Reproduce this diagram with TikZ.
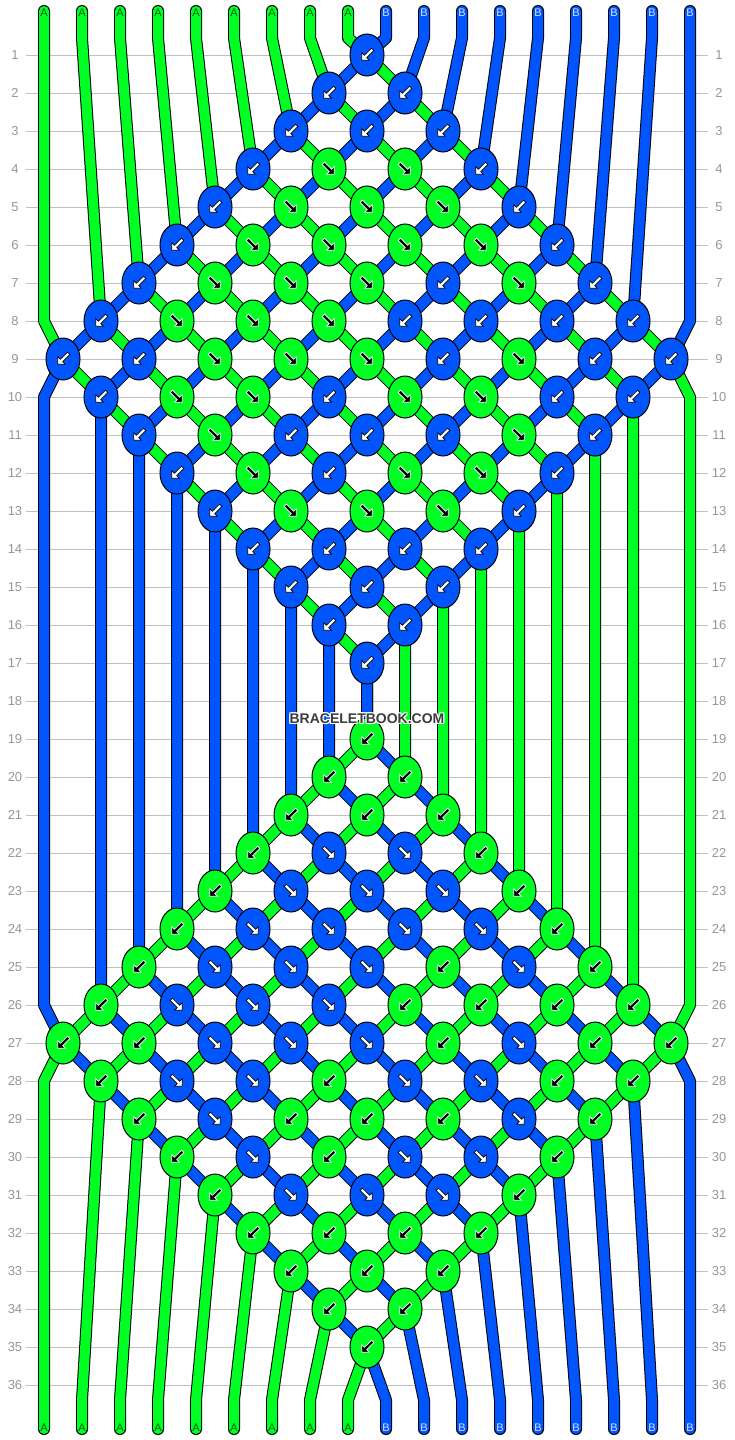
\documentclass[tikz,border=0pt]{standalone}
\usepackage{fontspec}
\setmainfont{Liberation Sans}
\usetikzlibrary{shapes.geometric}
\definecolor{cg}{RGB}{0,255,34}
\definecolor{cb}{RGB}{0,85,255}
\definecolor{gridc}{RGB}{192,192,192}
\definecolor{numc}{RGB}{150,150,150}
\definecolor{labA}{RGB}{0,100,20}
\definecolor{labB}{RGB}{215,228,255}
\definecolor{wmc}{RGB}{60,60,60}
\pgfdeclarelayer{bg}
\pgfdeclarelayer{strings}
\pgfdeclarelayer{front}
\pgfsetlayers{bg,strings,main,front}
\tikzset{
  knotnode/.style={ellipse, draw=black, line width=1pt, minimum width=34pt, minimum height=42pt, inner sep=0pt},
  knotB/.style={fill=cb},
  knotG/.style={fill=cg},
  arrB/.style={fill=white, draw=black, line width=0.7pt, line join=miter},
  arrG/.style={fill=black, draw=white, line width=0.7pt, line join=miter},
  gstr/.style={draw=black, line width=1pt, double=cg, double distance=10pt, line cap=round, line join=round},
  bstr/.style={draw=black, line width=1pt, double=cb, double distance=10pt, line cap=round, line join=round},
  gridline/.style={draw=gridc, line width=1pt},
  rownum/.style={text=numc, font=\fontsize{13}{15}\selectfont, inner sep=0pt},
  lblA/.style={text=labA, font=\fontsize{11}{13}\selectfont, inner sep=0pt},
  lblB/.style={text=labB, font=\fontsize{11}{13}\selectfont, inner sep=0pt},
  wmtext/.style={font=\bfseries\fontsize{14}{16}\selectfont, inner sep=0pt}
}
% #1 row, #2 slot, #3 colour letter (B/G), #4 direction (L = backward, R = forward)
\newcommand\knotdraw[4]{%
  \node[knotnode, knot#3] (k-#1-#2) at ({25+38*#2},{17+38*#1}) {};
  \if#4L
    \path[arr#3, shift={(k-#1-#2.center)}] (4.53,-6.79) -- (-2.55,0.28) -- (-5.30,-2.47) -- (-5.30,5.30) -- (2.47,5.30) -- (-0.28,2.55) -- (6.79,-4.53) -- cycle;
  \else
    \path[arr#3, shift={(k-#1-#2.center)}] (-4.53,-6.79) -- (2.55,0.28) -- (5.30,-2.47) -- (5.30,5.30) -- (-2.47,5.30) -- (0.28,2.55) -- (-6.79,-4.53) -- cycle;
  \fi
}
\begin{document}
\begin{tikzpicture}[x=1pt,y=-1pt]
\useasboundingbox (0,0) rectangle (734,1440);

% grid and row numbers
\begin{pgfonlayer}{bg}
\foreach \R in {1,...,36}{
  \draw[gridline] (26,{17+38*\R}) -- (708,{17+38*\R});
  \node[rownum] (rl-\R) at (15,{17+38*\R}) {\R};
  \node[rownum] (rr-\R) at (719,{17+38*\R}) {\R};
}
\end{pgfonlayer}

% string end points
\foreach \I in {1,...,18}{
  \coordinate (ts-\I) at ({6+38*\I},11);
  \coordinate (tb-\I) at ({6+38*\I},38);
  \coordinate (bb-\I) at ({6+38*\I},1400);
  \coordinate (be-\I) at ({6+38*\I},1429);
}
\foreach \R in {8,10,26,28}{
  \coordinate (eL-\R) at (44,{17+38*\R});
  \coordinate (eR-\R) at (690,{17+38*\R});
}

% knots: top half as listed, bottom half (row+18) with colours swapped
\foreach \KR/\KL in {1/{9/B},
  2/{8/B,10/B},
  3/{7/B,9/B,11/B},
  4/{6/B,8/F,10/F,12/B},
  5/{5/B,7/F,9/F,11/F,13/B},
  6/{4/B,6/F,8/F,10/F,12/F,14/B},
  7/{3/B,5/F,7/F,9/F,11/B,13/F,15/B},
  8/{2/B,4/F,6/F,8/F,10/B,12/B,14/B,16/B},
  9/{1/B,3/B,5/F,7/F,9/F,11/B,13/F,15/B,17/B},
  10/{2/B,4/F,6/F,8/B,10/F,12/F,14/B,16/B},
  11/{3/B,5/F,7/B,9/B,11/B,13/F,15/B},
  12/{4/B,6/F,8/B,10/F,12/F,14/B},
  13/{5/B,7/F,9/F,11/F,13/B},
  14/{6/B,8/B,10/B,12/B},
  15/{7/B,9/B,11/B},
  16/{8/B,10/B},
  17/{9/B}}{
  \pgfmathtruncatemacro\KRb{\KR+18}
  \foreach \KS/\KT in \KL {
    \if\KT B
      \knotdraw{\KR}{\KS}{B}{L}
      \knotdraw{\KRb}{\KS}{G}{L}
    \else
      \knotdraw{\KR}{\KS}{G}{R}
      \knotdraw{\KRb}{\KS}{B}{R}
    \fi
  }
}

% strings
\begin{pgfonlayer}{strings}
% green strings 2..8
\foreach \K in {2,...,8}{
  \draw[gstr] (ts-\K) -- (tb-\K)
    \foreach \J [evaluate=\J as \R using int(10-\K+\J), evaluate=\J as \S using int(\K+\J)] in {0,...,8} { -- (k-\R-\S.center) }
    \foreach \J [evaluate=\J as \R using int(18+\K+\J), evaluate=\J as \S using int(\K+8-\J)] in {0,...,8} { -- (k-\R-\S.center) }
    -- (bb-\K) -- (be-\K);
}
% green string 1
\draw[gstr] (ts-1) -- (tb-1) -- (eL-8)
  \foreach \J [evaluate=\J as \R using int(9+\J), evaluate=\J as \S using int(1+\J)] in {0,...,8} { -- (k-\R-\S.center) }
  \foreach \J [evaluate=\J as \R using int(19+\J), evaluate=\J as \S using int(9-\J)] in {0,...,8} { -- (k-\R-\S.center) }
  -- (eL-28) -- (bb-1) -- (be-1);
% green string 9
\draw[gstr] (ts-9) -- (tb-9)
  \foreach \J [evaluate=\J as \R using int(1+\J), evaluate=\J as \S using int(9+\J)] in {0,...,8} { -- (k-\R-\S.center) }
  -- (eR-10) -- (eR-26)
  \foreach \J [evaluate=\J as \R using int(27+\J), evaluate=\J as \S using int(17-\J)] in {0,...,8} { -- (k-\R-\S.center) }
  -- (bb-9) -- (be-9);
% blue strings 11..17
\foreach \N in {2,...,8}{
  \pgfmathtruncatemacro\M{\N+9}
  \draw[bstr] (ts-\M) -- (tb-\M)
    \foreach \J [evaluate=\J as \R using int(\N+\J), evaluate=\J as \S using int(\N+8-\J)] in {0,...,8} { -- (k-\R-\S.center) }
    \foreach \J [evaluate=\J as \R using int(28-\N+\J), evaluate=\J as \S using int(\N+\J)] in {0,...,8} { -- (k-\R-\S.center) }
    -- (bb-\M) -- (be-\M);
}
% blue string 10
\draw[bstr] (ts-10) -- (tb-10)
  \foreach \J [evaluate=\J as \R using int(1+\J), evaluate=\J as \S using int(9-\J)] in {0,...,8} { -- (k-\R-\S.center) }
  -- (eL-10) -- (eL-26)
  \foreach \J [evaluate=\J as \R using int(27+\J), evaluate=\J as \S using int(1+\J)] in {0,...,8} { -- (k-\R-\S.center) }
  -- (bb-10) -- (be-10);
% blue string 18
\draw[bstr] (ts-18) -- (tb-18) -- (eR-8)
  \foreach \J [evaluate=\J as \R using int(9+\J), evaluate=\J as \S using int(17-\J)] in {0,...,8} { -- (k-\R-\S.center) }
  \foreach \J [evaluate=\J as \R using int(19+\J), evaluate=\J as \S using int(9+\J)] in {0,...,8} { -- (k-\R-\S.center) }
  -- (eR-28) -- (bb-18) -- (be-18);
\end{pgfonlayer}

% labels and watermark
\begin{pgfonlayer}{front}
\foreach \I in {1,...,9}{
  \node[lblA] (lta-\I) at ({6+38*\I},12.5) {A};
  \node[lblA] (lba-\I) at ({6+38*\I},1428) {A};
}
\foreach \I in {10,...,18}{
  \node[lblB] (ltb-\I) at ({6+38*\I},12.5) {B};
  \node[lblB] (lbb-\I) at ({6+38*\I},1428) {B};
}
\foreach \DX/\DY [count=\C] in {-1/-1,-1/0,-1/1,0/-1,0/1,1/-1,1/0,1/1}{
  \node[wmtext, text=white] (wmh-\C) at ({367+\DX},{719+\DY}) {BRACELETBOOK.COM};
}
\node[wmtext, text=wmc] (wm) at (367,719) {BRACELETBOOK.COM};
\end{pgfonlayer}
\end{tikzpicture}
\end{document}
